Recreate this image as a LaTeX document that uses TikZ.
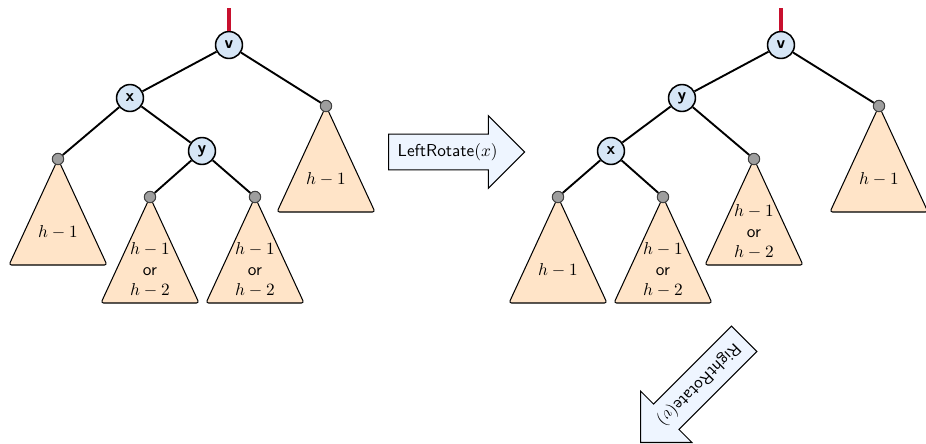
\documentclass[tikz,border=0pt]{standalone}
\usetikzlibrary{shapes.arrows}

\definecolor{knotblue}{RGB}{214,230,246}
\definecolor{treefill}{RGB}{255,228,200}
\definecolor{arrowblue}{RGB}{238,245,255}
\definecolor{rootred}{RGB}{200,16,46}

\tikzset{
  knot/.style={circle, draw, line width=0.9pt, fill=knotblue, minimum size=15.6pt,
    inner sep=0pt, font=\sffamily\bfseries},
  leaf/.style={circle, draw=black!75, line width=0.6pt, fill=black!38,
    minimum size=6.6pt, inner sep=0pt},
  subtree/.style={draw, line width=0.6pt, fill=treefill, rounded corners=1.5pt},
  treelabel/.style={align=center, font=\sffamily},
  edge/.style={line width=1.1pt},
  rootline/.style={draw=rootred, line width=2.5pt},
  rotarrow/.style={single arrow, draw, fill=arrowblue, line width=0.6pt, font=\sffamily,
    inner xsep=2pt, inner ysep=5.1pt, single arrow head extend=10.7pt}
}

% name, apex, label
\newcommand{\drawsubtree}[3]{%
  \draw[subtree] (#2) -- ++(-49,-106) -- ++(98,0) -- cycle;
  \node[leaf] (#1) at (#2) {};
  \path (#2) ++(0,-73) node[treelabel] (#1-txt) {#3};}

\begin{document}
\begin{tikzpicture}[x=0.58pt,y=0.58pt]
\useasboundingbox (0,0) rectangle (926,-444);

% Left tree
\drawsubtree{la}{58,-159}{$h-1$}
\drawsubtree{lb}{150,-197}{$h-1$\\or\\$h-2$}
\drawsubtree{lc}{255,-197}{$h-1$\\or\\$h-2$}
\drawsubtree{ld}{326,-106}{$h-1$}

\node[knot] (lv) at (229,-45) {v};
\node[knot] (lx) at (130,-98) {x};
\node[knot] (ly) at (202,-151) {y};
\coordinate (ltop) at (229,-8);

\draw[rootline] (ltop) -- (lv);
\draw[edge] (lv) -- (lx);
\draw[edge] (lv) -- (ld);
\draw[edge] (lx) -- (la);
\draw[edge] (lx) -- (ly);
\draw[edge] (ly) -- (lb);
\draw[edge] (ly) -- (lc);

% Right tree
\drawsubtree{ra}{558,-197}{$h-1$}
\drawsubtree{rb}{663,-197}{$h-1$\\or\\$h-2$}
\drawsubtree{rc}{754,-159}{$h-1$\\or\\$h-2$}
\drawsubtree{rd}{879,-106}{$h-1$}

\node[knot] (rv) at (781,-45) {v};
\node[knot] (ry) at (682,-98) {y};
\node[knot] (rx) at (611,-151) {x};
\coordinate (rtop) at (781,-8);

\draw[rootline] (rtop) -- (rv);
\draw[edge] (rv) -- (ry);
\draw[edge] (rv) -- (rd);
\draw[edge] (ry) -- (rx);
\draw[edge] (ry) -- (rc);
\draw[edge] (rx) -- (ra);
\draw[edge] (rx) -- (rb);

% Rotation arrows
\node[rotarrow, minimum height=79pt, anchor=tail] (left) at (388,-152) {LeftRotate$(x)$};
\node[rotarrow, minimum height=85pt, anchor=tip, rotate=225] (right) at (640,-443) {RightRotate$(v)$};

\end{tikzpicture}
\end{document}
